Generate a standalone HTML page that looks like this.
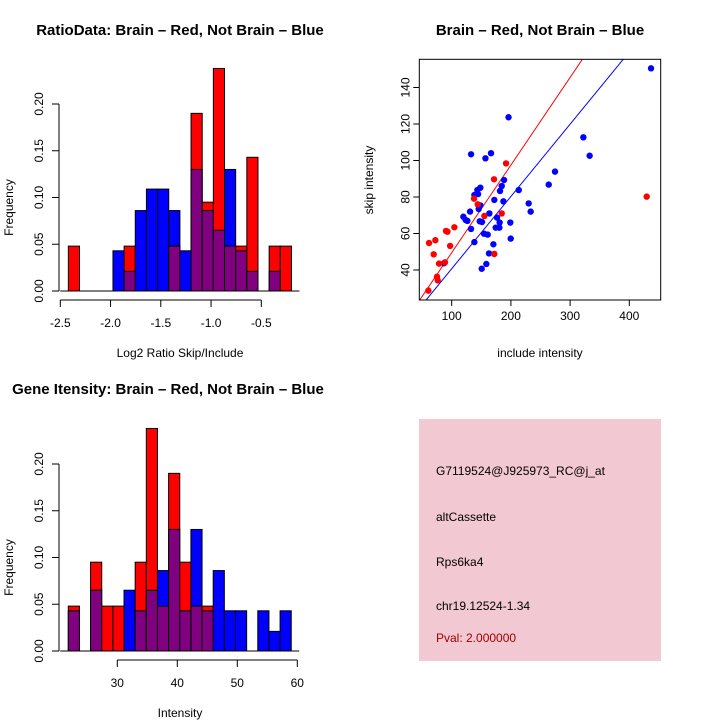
<!DOCTYPE html>
<html><head><meta charset="utf-8">
<style>
html,body{margin:0;padding:0;background:#fff;}
svg{display:block;font-family:"Liberation Sans",Arial,sans-serif;}
</style></head>
<body>
<svg id="chart" width="720" height="720" viewBox="0 0 720 720" xmlns="http://www.w3.org/2000/svg">
<rect x="0" y="0" width="720" height="720" fill="#fff"/>
<g id="p1"></g>
<g id="p2"></g>
<g id="p3"></g>
<g id="p4">
<rect x="419" y="419" width="242" height="242" fill="#f2c8d2"/>
<text x="436" y="475" font-size="12" fill="#000">G7119524@J925973_RC@j_at</text>
<text x="436" y="521" font-size="12" fill="#000">altCassette</text>
<text x="436" y="566" font-size="12" fill="#000">Rps6ka4</text>
<text x="436" y="610" font-size="12" fill="#000">chr19.12524-1.34</text>
<text x="436" y="642" font-size="12" fill="#a00000">Pval: 2.000000</text>
</g>
</svg>
<script>
// Ratio histogram data
const ratioBinStart = -2.42;
const ratioBinWidth = 0.111;
const ratioRed  = [0.048,0,0,0,0,0.048,0,0,0,0.048,0,0.19,0.095,0.238,0.048,0.048,0.143,0,0.048,0.048];
const ratioBlue = [0,0,0,0,0.043,0.021,0.086,0.109,0.109,0.086,0.043,0.13,0.086,0.065,0.13,0.043,0.021,0,0.021,0];
const ratioXTicks = [-2.5,-2.0,-1.5,-1.0,-0.5];
const ratioXLabels = ["-2.5","-2.0","-1.5","-1.0","-0.5"];
// Intensity histogram data
const intBinStart = 21.83;
const intBinWidth = 1.858;
const intRed  = [0.048,0,0.095,0.048,0.048,0,0.095,0.238,0.048,0.19,0.095,0.048,0.048,0,0,0,0,0,0,0];
const intBlue = [0.043,0,0.065,0,0,0.065,0.043,0.065,0.086,0.13,0.043,0.13,0.043,0.086,0.043,0.043,0,0.043,0.021,0.043];
const intXTicks = [30,40,50,60];
const intXLabels = ["30","40","50","60"];
const freqTicks = [0,0.05,0.10,0.15,0.20];
const freqLabels = ["0.00","0.05","0.10","0.15","0.20"];
// Scatter data
const blueX = [436.7,196,132.7,166.4,157,322.4,333,274.5,263.9,213.2,188.4,184.5,181.6,230,233.4,187.3,172,148.4,143.4,138.3,144.5,148.4,145.6,131,119.7,123.6,126.5,147.3,151.2,163.6,176.6,181,174.3,180.5,199,132.7,154.6,160.8,199.7,138.3,170.4,163,158.5,150.7,87];
const blueY = [150.5,123.7,103.4,104,101.2,112.7,102.6,93.9,86.8,83.8,89.3,86,83.3,76.5,72,77.6,78.4,85.1,83.8,81.1,81.6,75.4,73.4,72,69.2,67.4,66.9,66.7,66.3,71,68.7,66,63.2,63.2,66,62.5,59.9,59.4,57.2,55.3,54.1,49.1,43.3,40.7,43.7];
const redX = [429.4,191.8,171.5,137.7,144,155.2,184.5,172,104.5,90.4,92.8,97.3,61.7,72.4,69.6,78.6,88.7,75.2,76.4,60.6];
const redY = [80.2,98.4,89.7,79.1,76,69.6,71,48.8,63.4,61.4,61,53.2,54.8,56.3,48.6,43.5,44.2,36.3,34.3,28.7];
const redFit = [1.5,0.48];
const blueFit = [1.1,0.396];
const scXTicks = [100,200,300,400];
const scXLabels = ["100","200","300","400"];
const scYTicks = [40,60,80,100,120,140];
const scYLabels = ["40","60","80","100","120","140"];

const NS="http://www.w3.org/2000/svg";
function mk(parent,tag,attrs){const e=document.createElementNS(NS,tag);for(const k in attrs)e.setAttribute(k,attrs[k]);parent.appendChild(e);return e;}

function hist(g,cfg){
  const sx=v=>cfg.x0px+(v-cfg.x0)*cfg.kx;
  const sy=v=>cfg.y0px-v*cfg.ky;
  const t=mk(g,'text',{x:cfg.titleX,y:cfg.titleY,'font-size':15,'font-weight':'bold','text-anchor':'middle'});
  t.textContent=cfg.title;
  
  
  for(let i=0;i<cfg.red.length;i++){
    const a=cfg.start+i*cfg.w,b=a+cfg.w;
    const r=cfg.red[i],bl=cfg.blue[i];
    const hi=Math.max(r,bl),lo=Math.min(r,bl);
    if(hi<=0)continue;
    const col=r>=bl?'#ff0000':'#0000ff';
    const x1=sx(a),x2=sx(b);
    const rc=mk(g,'rect',{x:x1,y:sy(hi),width:x2-x1,height:sy(0)-sy(hi),fill:col,stroke:'#000','stroke-width':1});
    
    
    if(lo>0){
      const pc=mk(g,'rect',{x:x1,y:sy(lo),width:x2-x1,height:sy(0)-sy(lo),fill:'#800080',stroke:'#000','stroke-width':1});
      
      
    }
  }
  const ax=cfg.start, bx=cfg.start+cfg.red.length*cfg.w;
  const base=mk(g,'line',{x1:sx(ax)-8,x2:sx(bx)+8,y1:sy(0),y2:sy(0),stroke:'#000'});
  
  
  const yax=mk(g,'line',{x1:cfg.yAxisX,x2:cfg.yAxisX,y1:sy(freqTicks[0]),y2:sy(freqTicks[freqTicks.length-1]),stroke:'#000'});
  
  
  freqTicks.forEach((v,i)=>{
    mk(g,'line',{x1:cfg.yAxisX-7,x2:cfg.yAxisX,y1:sy(v),y2:sy(v),stroke:'#000'});
    const tx=mk(g,'text',{x:0,y:0,'font-size':12,'text-anchor':'middle',transform:`translate(${cfg.yAxisX-16},${sy(v)}) rotate(-90)`});
    tx.textContent=freqLabels[i];
    
    
  });
  const xl=cfg.xt[0],xr=cfg.xt[cfg.xt.length-1];
  const xax=mk(g,'line',{x1:sx(xl),x2:sx(xr),y1:cfg.xAxisY,y2:cfg.xAxisY,stroke:'#000'});
  
  
  cfg.xt.forEach((v,i)=>{
    mk(g,'line',{x1:sx(v),x2:sx(v),y1:cfg.xAxisY,y2:cfg.xAxisY+7,stroke:'#000'});
    const tx=mk(g,'text',{x:sx(v),y:cfg.xAxisY+27,'font-size':12,'text-anchor':'middle'});
    tx.textContent=cfg.xl[i];
    
    
  });
  const xt=mk(g,'text',{x:180,y:cfg.xAxisY+57,'font-size':12,'text-anchor':'middle'});
  xt.textContent=cfg.xTitle;
  
  
  const yt=mk(g,'text',{x:0,y:0,'font-size':12,'text-anchor':'middle',transform:`translate(13,${(sy(0)+sy(0.2))/2+10}) rotate(-90)`});
  yt.textContent='Frequency';
  
  
}

hist(document.getElementById('p1'),{title:'RatioData: Brain – Red, Not Brain – Blue',titleX:180,titleY:35,
  x0:-2.5,x0px:60.3,kx:100.5,y0px:291,ky:935,start:ratioBinStart,w:ratioBinWidth,red:ratioRed,blue:ratioBlue,
  yAxisX:59,xAxisY:300,xt:ratioXTicks,xl:ratioXLabels,xTitle:'Log2 Ratio Skip/Include'});
hist(document.getElementById('p3'),{title:'Gene Itensity: Brain – Red, Not Brain – Blue',titleX:168,titleY:394,
  x0:30,x0px:117.3,kx:6,y0px:651,ky:935,start:intBinStart,w:intBinWidth,red:intRed,blue:intBlue,
  yAxisX:59,xAxisY:660,xt:intXTicks,xl:intXLabels,xTitle:'Intensity'});

(function(){
  const g=document.getElementById('p2');
  const L=419.3,R=660.7,T=59.3,B=300;
  const sx=v=>451.7+(v-100)*0.592;
  const sy=v=>270-(v-40)*1.825;
  const t=mk(g,'text',{x:540,y:35,'font-size':15,'font-weight':'bold','text-anchor':'middle'});
  t.textContent='Brain – Red, Not Brain – Blue';
  
  
  const defs=mk(g,'defs',{});
  const cp=mk(defs,'clipPath',{id:'clipsc'});
  mk(cp,'rect',{x:L,y:T,width:R-L,height:B-T});
  const pg=mk(g,'g',{'clip-path':'url(#clipsc)'});
  const xmin=(L-451.7)/0.592+100,xmax=(R-451.7)/0.592+100;
  [[redFit,'#ff0000','red-fit-line'],[blueFit,'#0000ff','blue-fit-line']].forEach(([f,c,n])=>{
    const ln=mk(pg,'line',{x1:sx(xmin),y1:sy(f[0]+f[1]*xmin),x2:sx(xmax),y2:sy(f[0]+f[1]*xmax),stroke:c,'stroke-width':1});
    
    
  });
  blueX.forEach((x,i)=>{
    const c=mk(pg,'circle',{cx:sx(x),cy:sy(blueY[i]),r:3.2,fill:'#0000ff'});
    
    
  });
  redX.forEach((x,i)=>{
    const c=mk(pg,'circle',{cx:sx(x),cy:sy(redY[i]),r:3.2,fill:'#ff0000'});
    
    
  });
  const box=mk(g,'rect',{x:L,y:T,width:R-L,height:B-T,fill:'none',stroke:'#000'});
  
  
  scXTicks.forEach((v,i)=>{
    mk(g,'line',{x1:sx(v),x2:sx(v),y1:B,y2:B+6,stroke:'#000'});
    const tx=mk(g,'text',{x:sx(v),y:B+20,'font-size':12,'text-anchor':'middle'});
    tx.textContent=scXLabels[i];
    
    
  });
  scYTicks.forEach((v,i)=>{
    mk(g,'line',{x1:L-6,x2:L,y1:sy(v),y2:sy(v),stroke:'#000'});
    const tx=mk(g,'text',{x:0,y:0,'font-size':12,'text-anchor':'middle',transform:`translate(${L-10},${sy(v)}) rotate(-90)`});
    tx.textContent=scYLabels[i];
    
    
  });
  const xt=mk(g,'text',{x:540,y:357,'font-size':12,'text-anchor':'middle'});
  xt.textContent='include intensity';
  
  
  const yt=mk(g,'text',{x:0,y:0,'font-size':12,'text-anchor':'middle',transform:`translate(373,180) rotate(-90)`});
  yt.textContent='skip intensity';
  
  
})();
</script>
</body></html>
